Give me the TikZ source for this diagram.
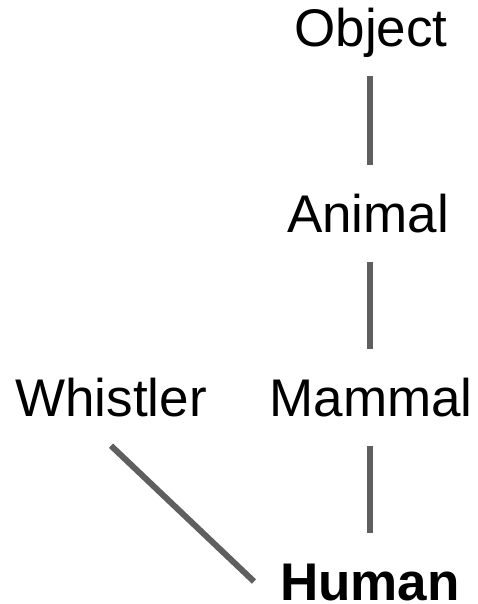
\documentclass[tikz,border=0pt]{standalone}
\usepackage{fontspec}
\setmainfont{Liberation Sans}
\definecolor{edgegray}{HTML}{5F5F5F}
\begin{document}
\begin{tikzpicture}[x=1pt,y=-1pt,
		cls/.style={font=\fontsize{53pt}{60pt}\selectfont,text height=38pt,text depth=0pt,inner xsep=26pt,inner ysep=29pt},
		edge/.style={draw=edgegray,line width=6pt}]
		\useasboundingbox (0,0) rectangle (477,604);
		\node[cls] (Obj) at (371, 27.5) {Object};
		\node[cls] (Ani) at (368, 213.5) {Animal};
		\node[cls] (Mam) at (371, 397.5) {Mammal};
		\node[cls] (Whi) at (111, 397.5) {Whistler};
		\node[cls,font=\fontsize{53pt}{60pt}\selectfont\bfseries] (Hum) at (370, 581.5) {Human};
		\draw[edge] (Obj.south -| 370,0) -- (Ani.north -| 370,0);
		\draw[edge] (Ani.south -| 370,0) -- (Mam.north -| 370,0);
		\draw[edge] (Mam.south -| 370,0) -- (Hum.north -| 370,0);
		\draw[edge] (Whi.south) -- (Hum.west);
	\end{tikzpicture}
\end{document}
